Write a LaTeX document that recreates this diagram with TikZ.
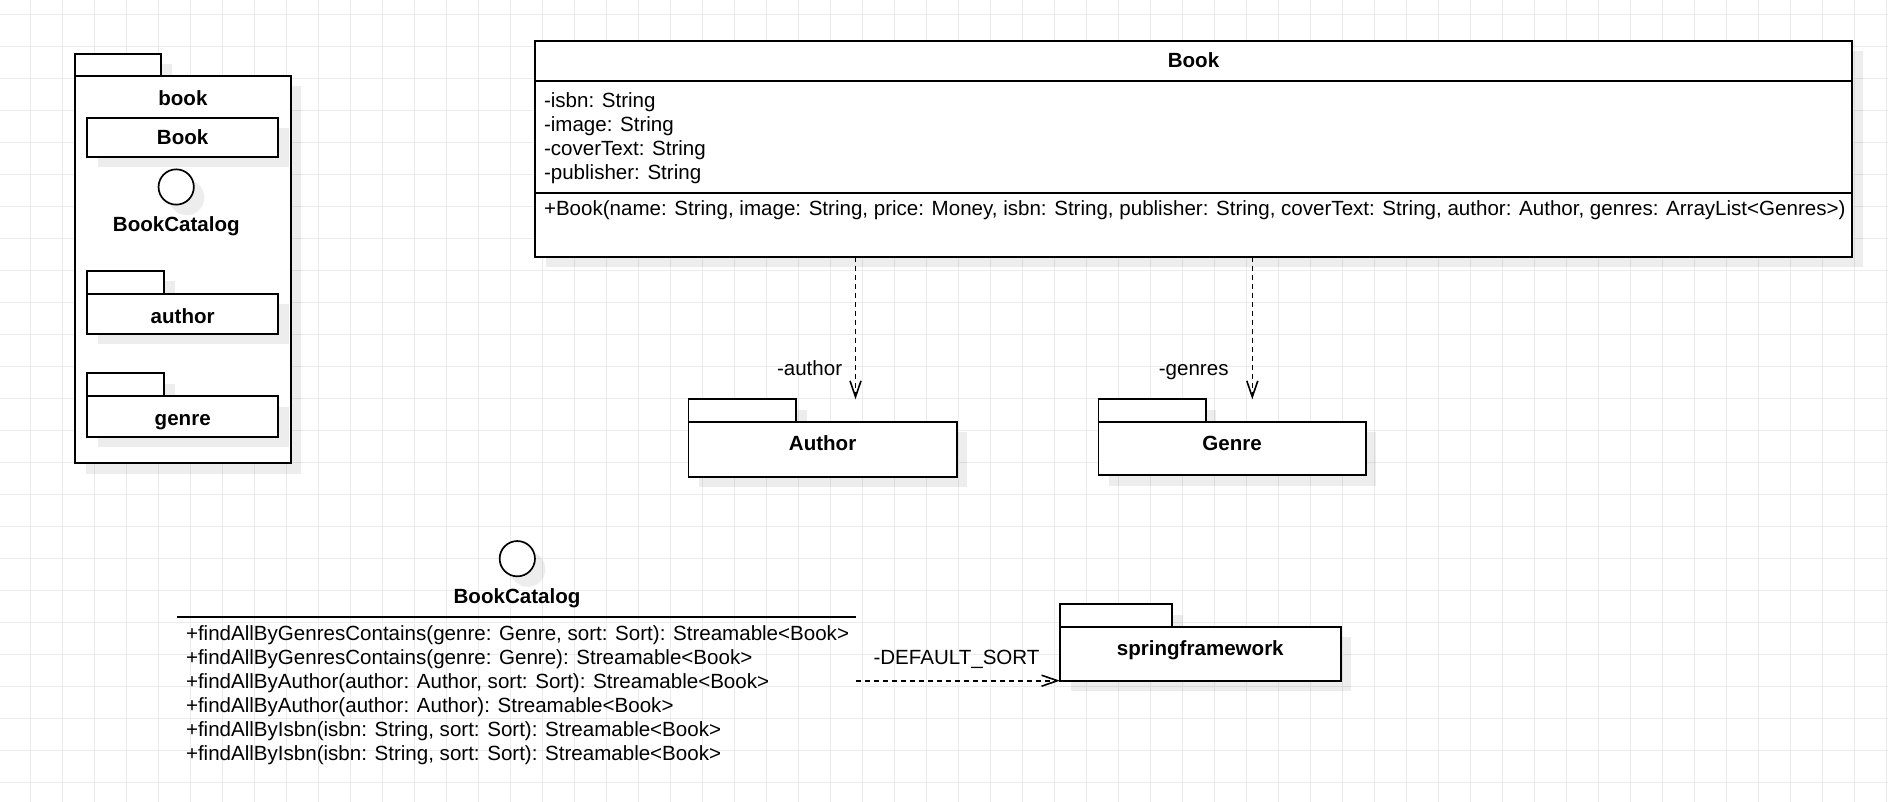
\documentclass[tikz,border=0pt]{standalone}
\usepackage{fontspec}
\setmainfont{Liberation Sans}
\usetikzlibrary{shadows,arrows.meta}
\begin{document}
\begin{tikzpicture}[x=1pt,y=-1pt,
  every node/.style={inner sep=0pt, outer sep=0pt, font=\fontsize{20.55}{24}\selectfont},
  box/.style={draw=black, line width=1.7pt, fill=white, rectangle, anchor=north west},
  shad/.style={drop shadow={shadow xshift=10.5pt, shadow yshift=-10.5pt, fill=black, opacity=0.07}},
  lbl/.style={text height=18.1pt, text depth=4.24pt},
  blbl/.style={lbl, font=\fontsize{20.55}{24}\selectfont\bfseries},
  iface/.style={circle, draw=black, line width=1.7pt, fill=white, minimum size=35.3pt},
  gridline/.style={draw=black!8, line width=1pt},
  divider/.style={draw=black, line width=1.7pt},
  dep/.style={draw=black, line width=1.6pt, dash pattern=on 5pt off 4pt,
    -{Straight Barb[length=16pt, width=11pt, line width=1.6pt]}},
]
\useasboundingbox (0,0) rectangle (1888,802);
\fill[white] (0,0) rectangle (1888,802);
% grid
\foreach \i in {0,...,58} \draw[gridline] ({30.3+32*\i},0) -- ({30.3+32*\i},802);
\foreach \j in {0,...,24} \draw[gridline] (0,{14.3+32*\j}) -- (1888,{14.3+32*\j});

% ---- left package "book"
\node[box, shad, minimum width=86pt, minimum height=22pt] (bookPkgTab) at (75,54) {};
\node[box, shad, minimum width=215.7pt, minimum height=387.3pt] (bookPkg) at (75,76) {};
\node[blbl] (bookPkgLbl) at (182.9,98.1) {book};
\node[box, shad, blbl, minimum width=191.3pt, minimum height=39pt] (innerBook) at (87,117.7) {Book};
\node[iface, shad] (innerCatalogCircle) at (176.2,187) {};
\node[blbl] (innerCatalogLbl) at (176.3,224.9) {BookCatalog};
\node[box, shad, minimum width=77pt, minimum height=23pt] (innerAuthorTab) at (87,271) {};
\node[box, shad, minimum width=191.3pt, minimum height=40pt] (innerAuthor) at (87,294) {};
\node[blbl] (innerAuthorLbl) at (182.7,316.1) {author};
\node[box, shad, minimum width=77pt, minimum height=22.7pt] (innerGenreTab) at (87,373.3) {};
\node[box, shad, minimum width=191.3pt, minimum height=40.7pt] (innerGenre) at (87,396) {};
\node[blbl] (innerGenreLbl) at (182.7,418.1) {genre};

% ---- Book class
\node[box, shad, draw=none, minimum width=1317pt, minimum height=215.7pt] (bookcls) at (535,41) {};
\node[box, blbl, minimum width=1317pt, minimum height=40pt] (bookHead) at (535,41) {Book};
\node[box, minimum width=1317pt, minimum height=112.3pt] (bookAttrs) at (535,81) {};
\node[box, minimum width=1317pt, minimum height=63.4pt] (bookOps) at (535,193.3) {};
\node[anchor=north west, align=left] (bookAttrText) at (544,90.4)
  {\strut-isbn: String\\\strut-image: String\\\strut-coverText: String\\\strut-publisher: String};
\node[anchor=base west] (bookOpText) at (544,215.8)
  {+Book(name: String, image: String, price: Money, isbn: String, publisher: String, coverText: String, author: Author, genres: ArrayList<Genres>)};

% ---- Author / Genre packages
\node[box, shad, minimum width=107.5pt, minimum height=22.4pt] (authorTab) at (688.5,399.3) {};
\node[box, shad, minimum width=268.2pt, minimum height=55pt] (authorPkg) at (688.5,421.7) {};
\node[blbl] (authorLbl) at (822.6,443.8) {Author};
\node[box, shad, minimum width=107.2pt, minimum height=22.4pt] (genreTab) at (1098.6,399.3) {};
\node[box, shad, minimum width=267.1pt, minimum height=53.6pt] (genrePkg) at (1098.6,421.7) {};
\node[blbl] (genreLbl) at (1232.1,443.8) {Genre};

\coordinate (authorX) at (855.5,0);
\coordinate (genreX) at (1252.3,0);
\draw[dep] (bookcls.south -| authorX) -- (authorTab.north -| authorX);
\draw[dep] (bookcls.south -| genreX) -- (genreTab.north -| genreX);
\node[lbl] (authorRole) at (809.6,368.1) {-author};
\node[lbl] (genreRole) at (1193.7,368.1) {-genres};

% ---- BookCatalog interface
\node[iface, shad] (catalogCircle) at (517.3,558.7) {};
\node[blbl] (catalogLbl) at (517,596.1) {BookCatalog};
\node[anchor=north west, minimum width=679pt, minimum height=150pt] (bcClass) at (177,617) {};
\draw[divider] (bcClass.north west) -- (bcClass.north east);
\node[anchor=north west, align=left] (bcOps) at (186,623.2)
  {\strut+findAllByGenresContains(genre: Genre, sort: Sort): Streamable<Book>\\
   \strut+findAllByGenresContains(genre: Genre): Streamable<Book>\\
   \strut+findAllByAuthor(author: Author, sort: Sort): Streamable<Book>\\
   \strut+findAllByAuthor(author: Author): Streamable<Book>\\
   \strut+findAllByIsbn(isbn: String, sort: Sort): Streamable<Book>\\
   \strut+findAllByIsbn(isbn: String, sort: Sort): Streamable<Book>};

% ---- springframework package
\node[box, shad, minimum width=112.3pt, minimum height=22.4pt] (springTab) at (1060,604.3) {};
\node[box, shad, minimum width=280.7pt, minimum height=54pt] (springPkg) at (1060,626.7) {};
\node[blbl] (springLbl) at (1200.3,648.8) {springframework};

\draw[dep] (bcClass.east |- springPkg.south west) -- (springPkg.south west);
\node[lbl] (sortRole) at (956.5,657.1) {-DEFAULT\_SORT};
\end{tikzpicture}
\end{document}
